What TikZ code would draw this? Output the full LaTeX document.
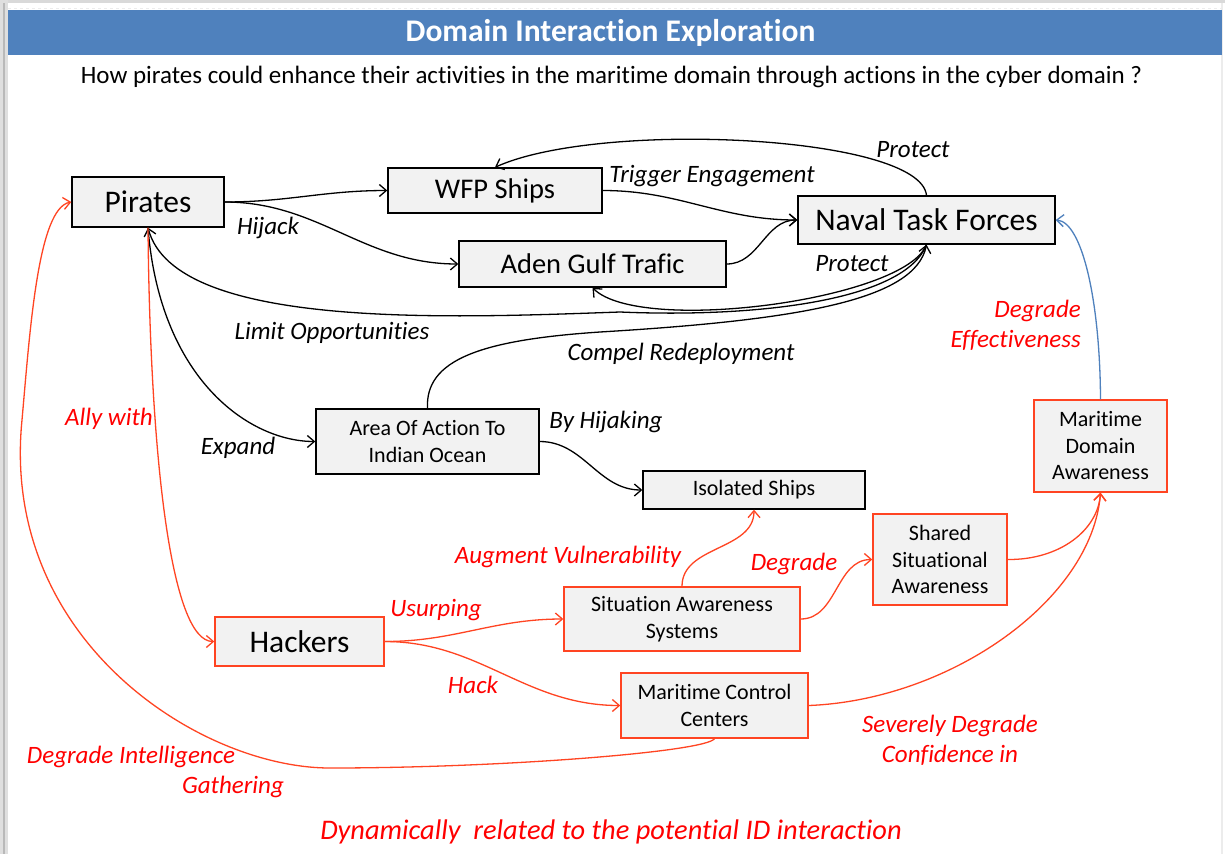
\documentclass[tikz,border=0pt]{standalone}
\usepackage{fontspec}
\setmainfont{Carlito}[Ligatures=NoCommon]
\usetikzlibrary{arrows.meta}
\definecolor{titleblue}{HTML}{4F81BD}
\definecolor{nodefill}{HTML}{F2F2F2}
\definecolor{redline}{HTML}{FF4422}
\definecolor{redtext}{HTML}{FF0000}
\tikzset{
  box/.style={draw=black, fill=nodefill, line width=1.4pt, inner sep=0pt, align=center},
  rbox/.style={box, draw=redline},
  bigtxt/.style={font=\fontsize{31.5}{36}\selectfont},
  midtxt/.style={font=\fontsize{28.5}{34}\selectfont},
  smalltxt/.style={font=\fontsize{22}{26.5}\selectfont},
  lbl/.style={font=\fontsize{25}{30}\selectfont\itshape, inner sep=0pt, align=center},
  rlbl/.style={lbl, text=redtext},
  arr/.style={line width=1.3pt, -{Straight Barb[length=7pt,width=12pt,line width=1.3pt]}},
  rarr/.style={arr, draw=redline},
}
\begin{document}
\begin{tikzpicture}[x=1pt,y=-1pt]
\useasboundingbox (0,0) rectangle (1225,854);
% frame
\fill[white] (0,0) rectangle (1225,854);
\fill[gray!30] (0,0) rectangle (1225,3);
\fill[gray!25] (0,0) rectangle (8,854);
\fill[gray!55] (3,3) rectangle (5,854);
\fill[gray!15] (1221,3) rectangle (1223,854);
\draw[gray!15, dashed, line width=1pt] (8,8) -- (1222,8);
% title
\fill[titleblue] (8,10) rectangle (1222,55);
\node[text=white, font=\fontsize{31.5}{36}\selectfont\bfseries, inner sep=0pt] (title) at (610.5,33) {Domain Interaction Exploration};
\node[font=\fontsize{25}{30}\selectfont, inner sep=0pt] (subtitle) at (611.5,77) {How pirates could enhance their activities in the maritime domain through actions in the cyber domain ?};

% nodes
\node[box,bigtxt,minimum width=152pt,minimum height=50pt] (pir) at (148,202) {Pirates};
\node[box,midtxt,minimum width=214pt,minimum height=45pt] (wfp) at (495,190.5) {WFP Ships};
\node[box,bigtxt,minimum width=257pt,minimum height=48pt] (nav) at (926.5,220) {Naval Task Forces};
\node[box,midtxt,minimum width=267pt,minimum height=46pt] (aden) at (592.5,264) {Aden Gulf Trafic};
\node[box,smalltxt,minimum width=223pt,minimum height=65pt] (area) at (427.5,441.5) {Area Of Action To\\Indian Ocean};
\node[box,smalltxt,minimum width=222pt,minimum height=38pt] (iso) at (754,490) {Isolated Ships};
\node[rbox,smalltxt,minimum width=133pt,minimum height=92pt] (mda) at (1100.5,446) {Maritime\\Domain\\Awareness};
\node[rbox,smalltxt,minimum width=134pt,minimum height=91pt] (ssa) at (940,559.5) {Shared\\Situational\\Awareness};
\node[rbox,smalltxt,minimum width=236pt,minimum height=64pt] (sas) at (682,619) {Situation Awareness\\Systems};
\node[rbox,bigtxt,minimum width=169pt,minimum height=49pt] (hack) at (299.5,641.5) {Hackers};
\node[rbox,smalltxt,minimum width=187pt,minimum height=65pt] (mcc) at (714.5,705.5) {Maritime Control\\Centers};

% black connectors
\draw[arr] (pir.east) to[out=0,in=180] (wfp.west);
\draw[arr] (pir.east) to[out=0,in=180] (aden.west);
\draw[arr] (wfp.east) to[out=0,in=180] (nav.west);
\draw[arr] (aden.east) to[out=0,in=180] (nav.west);
\draw[arr] (nav.north) .. controls (920,135) and (600,120) .. (wfp.north);
\draw[arr] (nav.south) .. controls (905,300) and (640,335) .. (aden.south);
\draw[arr] (nav.south) .. controls (905,300) and (760,318) .. (620,312) .. controls (450,318) and (175,330) .. (pir.south);
\draw[arr] (area.north) .. controls (425,360) and (480,340) .. (600,332) .. controls (800,320) and (915,300) .. (nav.south);
\draw[arr] (pir.south) .. controls (160,380) and (250,441.5) .. (area.west);
\draw[arr] (area.east) to[out=0,in=180] (iso.west);

% red connectors
\draw[rarr] (pir.south) .. controls (150,450) and (170,641.5) .. (hack.west);
\draw[rarr] (hack.east) to[out=0,in=180] (sas.west);
\draw[rarr] (hack.east) to[out=0,in=180] (mcc.west);
\draw[rarr] (sas.north) to[out=90,in=-90] (iso.south);
\draw[rarr] (sas.east) to[out=0,in=180] (ssa.west);
\draw[rarr] (ssa.east) .. controls (1060,560) and (1098,530) .. (mda.south);
\draw[rarr] (mcc.east) .. controls (950,700) and (1092,600) .. (mda.south);
\draw[rarr] (mcc.south) .. controls (705,752) and (500,768) .. (330,768) .. controls (200,768) and (0,640) .. (22,420) .. controls (30,330) and (38,208) .. (pir.west);
% blue connector
\draw[arr, draw=titleblue] (mda.north) .. controls (1100,300) and (1082,222) .. (nav.east);

% labels
\node[lbl] (lhijack) at (268,228) {Hijack};
\node[lbl] (ltrigger) at (712,176) {Trigger Engagement};
\node[lbl] (lprotect1) at (913,150) {Protect};
\node[lbl] (lprotect2) at (852,264) {Protect};
\node[lbl] (llimit) at (332,333) {Limit Opportunities};
\node[lbl] (lcompel) at (681,354) {Compel Redeployment};
\node[lbl] (lexpand) at (238,448) {Expand};
\node[lbl] (lbyhij) at (606,422) {By Hijaking};
\node[rlbl] (lally) at (109,419) {Ally with};
\node[rlbl, align=right, anchor=east] (leff) at (1081,325) {Degrade\\Effectiveness};
\node[rlbl] (laug) at (568,557) {Augment Vulnerability};
\node[rlbl] (ldeg) at (794,564) {Degrade};
\node[rlbl] (lusurp) at (436,610) {Usurping};
\node[rlbl] (lhack) at (473,685) {Hack};
\node[rlbl] (lsev) at (950,740) {Severely Degrade\\Confidence in};
\node[rlbl] (lintel) at (131,757) {Degrade Intelligence};
\node[rlbl] (lgath) at (233,787) {Gathering};
\node[rlbl, font=\fontsize{28.4}{32}\selectfont\itshape] (footer) at (611,832) {Dynamically\ \ related to the potential ID interaction};
\end{tikzpicture}
\end{document}
